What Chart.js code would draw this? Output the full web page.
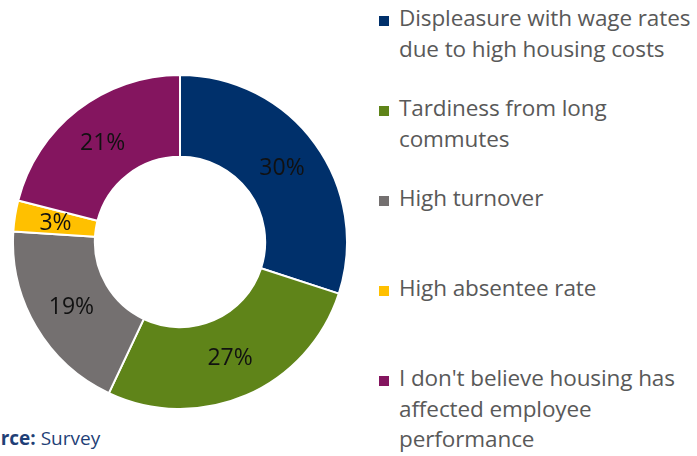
<!DOCTYPE html>
<html>
<head>
<meta charset="utf-8">
<script src="https://cdn.jsdelivr.net/npm/chart.js@4/dist/chart.umd.min.js"></script>
<style>
  html, body { margin: 0; padding: 0; background: #ffffff; overflow: hidden; }
  body { width: 697px; height: 456px; position: relative; font-family: "Open Sans", "Noto Sans", sans-serif; }
  #donutBox { position: absolute; left: 12px; top: 74px; width: 336px; height: 336px; }
  #legend { position: absolute; left: 379px; top: 0; width: 318px; }
  .item { position: absolute; left: 0; display: flex; align-items: flex-start; }
  .swatch { width: 10px; height: 10px; margin-top: 13px; flex: none; }
  .text { margin-left: 10px; font-size: 22.5px; line-height: 30.5px; color: #595959; white-space: nowrap; letter-spacing: -0.1px; }
  #source { position: absolute; top: 425px; font-size: 19px; color: #1f3f77; white-space: nowrap; }
  #source b { font-weight: 700; }
</style>
</head>
<body>
<div id="donutBox"><canvas id="donut"></canvas></div>
<div id="legend"></div>
<div id="source"><b>Source:</b> Survey</div>
<script>
// Survey answers (each label split into the lines shown in the legend)
const categories = [
  ["Displeasure with wage rates", "due to high housing costs"],
  ["Tardiness from long", "commutes"],
  ["High turnover"],
  ["High absentee rate"],
  ["I don't believe housing has", "affected employee", "performance"]
];
const shares = [30, 27, 19, 3, 21];
const sliceColors = ["#00306b", "#5f8419", "#747070", "#ffc000", "#84155f"];

// Writes the percentage in the middle of each ring segment
const sliceLabels = {
  id: "sliceLabels",
  afterDatasetsDraw(chart) {
    const ctx = chart.ctx;
    const meta = chart.getDatasetMeta(0);
    const values = chart.data.datasets[0].data;
    ctx.save();
    ctx.font = "23px 'Open Sans', 'Noto Sans', sans-serif";
    ctx.fillStyle = "#111111";
    ctx.textAlign = "center";
    ctx.textBaseline = "middle";
    meta.data.forEach((arc, i) => {
      const p = arc.tooltipPosition();
      ctx.fillText(values[i] + "%", p.x, p.y + 1);
    });
    ctx.restore();
  }
};

const chart = new Chart(document.getElementById("donut"), {
  type: "doughnut",
  data: {
    labels: categories,
    datasets: [{
      data: shares,
      backgroundColor: sliceColors,
      borderColor: "#ffffff",
      borderWidth: 2
    }]
  },
  options: {
    responsive: true,
    maintainAspectRatio: false,
    animation: false,
    cutout: "51%",
    layout: { padding: 0 },
    plugins: {
      legend: { display: false },
      tooltip: { enabled: false }
    }
  },
  plugins: [sliceLabels]
});

// Legend built from the chart's own labels and colours
const legend = document.getElementById("legend");
const itemGap = 90;
chart.data.labels.forEach((lines, i) => {
  const item = document.createElement("div");
  item.className = "item";
  item.style.top = (3 + i * itemGap) + "px";
  const sw = document.createElement("div");
  sw.className = "swatch";
  sw.style.background = chart.data.datasets[0].backgroundColor[i];
  const txt = document.createElement("div");
  txt.className = "text";
  txt.innerHTML = lines.map(l => l.replace(/&/g, "&amp;").replace(/</g, "&lt;")).join("<br>");
  item.appendChild(sw);
  item.appendChild(txt);
  legend.appendChild(item);
});

// Source note runs off the left edge, with "Sou" hidden
const src = document.getElementById("source");
const mctx = document.createElement("canvas").getContext("2d");
mctx.font = "700 19px 'Open Sans'";
src.style.left = (-Math.round(mctx.measureText("Sou").width) + 1) + "px";
</script>
</body>
</html>
